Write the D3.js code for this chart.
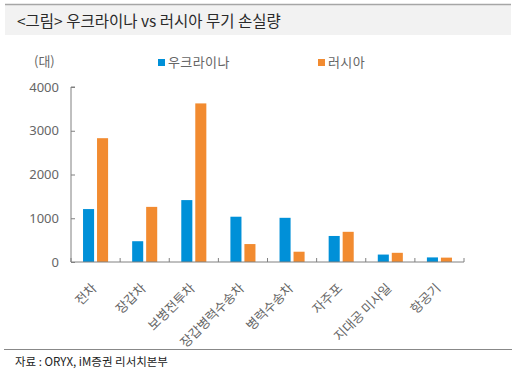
<!DOCTYPE html>
<html><head><meta charset="utf-8">
<script src="https://cdn.jsdelivr.net/npm/d3@7"></script>
<style>body{margin:0;background:#fff;}svg{display:block;font-family:"Noto Sans CJK KR","Noto Sans",sans-serif;}</style>
</head><body>
<svg id="c" width="516" height="373"></svg>
<script>
const categories = ["전차","장갑차","보병전투차","장갑병력수송차","병력수송차","자주포","지대공 미사일","항공기"];
const ukraine = [1210, 475, 1415, 1035, 1010, 595, 170, 105];
const russia  = [2830, 1260, 3625, 410, 235, 690, 210, 100];
const seriesNames = ["우크라이나","러시아"];
const colors = ["#0090d8","#f28b30"];
const yTicks = [0,1000,2000,3000,4000];

const svg = d3.select("#c");
const m = {left:71, right:464, top:87, bottom:262};

// title bar
svg.append("rect").attr("x",5).attr("y",5).attr("width",506).attr("height",30).attr("fill","#f2f2f2");
svg.append("line").attr("x1",5).attr("x2",511).attr("y1",4.5).attr("y2",4.5).attr("stroke","#a6a6a6").attr("stroke-width",1.5);
svg.append("text").attr("x",17).attr("y",27).attr("font-size",15.5).attr("fill","#2a2a2a").text("<그림> 우크라이나 vs 러시아 무기 손실량");

const x = d3.scaleBand().domain(categories).range([m.left,m.right]);
const xs = d3.scaleBand().domain(seriesNames).range([0,x.bandwidth()]).paddingInner(0.21).paddingOuter(0.86);
const y = d3.scaleLinear().domain([0,4000]).range([m.bottom,m.top]);

// bars
const data = categories.map((c,i)=>({c, v:[ukraine[i],russia[i]]}));
const g = svg.append("g");
data.forEach(d=>{
  seriesNames.forEach((s,j)=>{
    g.append("rect").attr("x",x(d.c)+xs(s)).attr("width",xs.bandwidth())
      .attr("y",y(d.v[j])).attr("height",y(0)-y(d.v[j])).attr("fill",colors[j]);
  });
});

// y axis
const ya = svg.append("g").attr("transform",`translate(${m.left},0)`)
  .call(d3.axisRight(y).tickValues(yTicks).tickSize(4).tickFormat(d3.format("d")));
ya.select(".domain").attr("stroke","#808080").attr("d",`M4,${m.top}H0V${m.bottom}`);
ya.selectAll(".tick line").attr("stroke","#808080");
ya.selectAll(".tick text").attr("x",-12).attr("text-anchor","end").attr("font-size",13).attr("fill","#666").attr("font-family","Noto Sans, sans-serif");

// x axis
const xa = svg.append("g").attr("transform",`translate(0,${m.bottom})`);
xa.append("line").attr("x1",m.left).attr("x2",m.right).attr("stroke","#808080");
const bounds = categories.map(c=>x(c)).concat([m.right]);
xa.selectAll(".tk").data(bounds).join("line").attr("x1",d=>d).attr("x2",d=>d).attr("y1",0).attr("y2",-4).attr("stroke","#808080");
xa.selectAll(".lbl").data(categories).join("text")
  .attr("transform",d=>`translate(${x(d)+x.bandwidth()/2+2},${27}) rotate(-45)`)
  .attr("text-anchor","end").attr("font-size",13).attr("fill","#666").text(d=>d);

// unit
svg.append("text").attr("x",34).attr("y",66).attr("font-size",13).attr("fill","#666").text("(대)");

// legend
const legX = [158,318];
seriesNames.forEach((s,j)=>{
  svg.append("rect").attr("x",legX[j]).attr("y",59).attr("width",7).attr("height",7).attr("fill",colors[j]);
  svg.append("text").attr("x",legX[j]+10).attr("y",67).attr("font-size",13).attr("letter-spacing",0.4).attr("fill","#666").text(s);
});

// footer
svg.append("line").attr("x1",4).attr("x2",512).attr("y1",349.5).attr("y2",349.5).attr("stroke","#888").attr("stroke-width",1);
svg.append("text").attr("x",15).attr("y",366).attr("font-size",11.5).attr("fill","#222").text("자료 : ORYX, iM증권 리서치본부");
</script>
</body></html>
